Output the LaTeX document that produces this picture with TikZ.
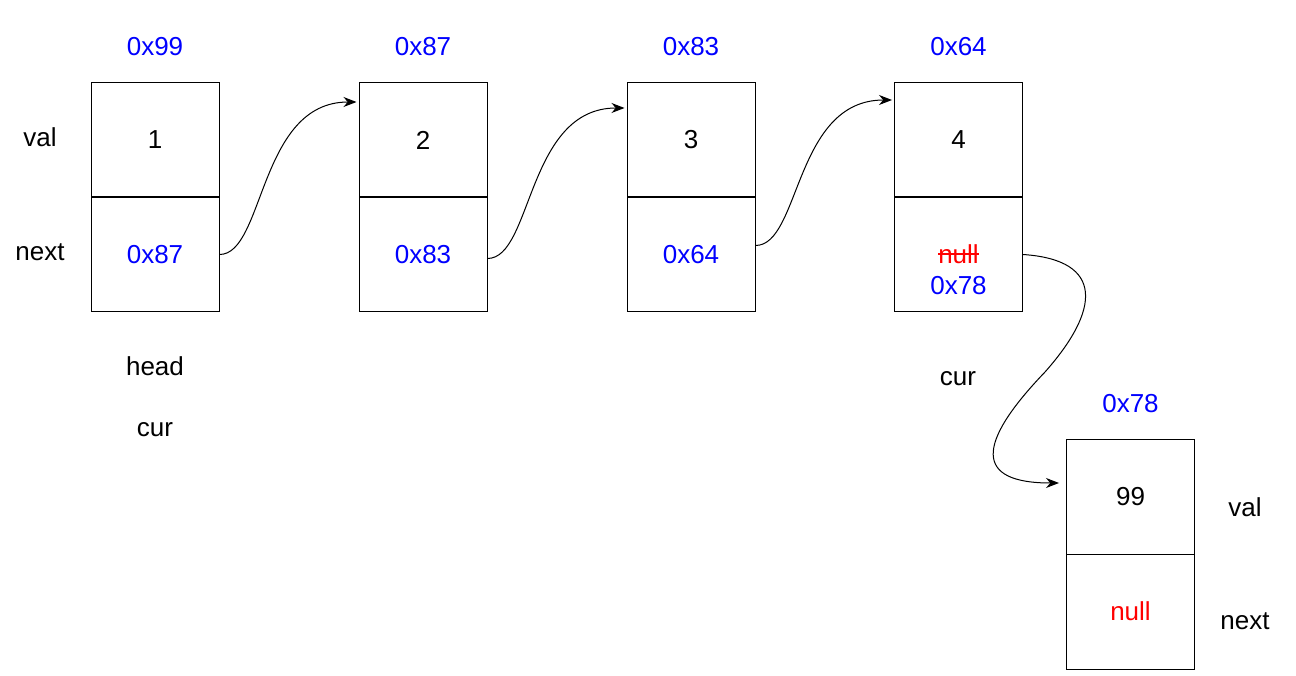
\documentclass[tikz,border=0pt]{standalone}
\usepackage{fontspec}
\setmainfont{Liberation Sans}
\usetikzlibrary{arrows.meta}
\newcommand\myfs{\fontsize{26}{31}\selectfont}
\begin{document}
\begin{tikzpicture}[x=1pt,y=-1pt,
  cell/.style={draw, line width=1pt, minimum width=128pt, minimum height=115pt, inner sep=0pt, font=\myfs},
  lbl/.style={inner sep=0pt, font=\myfs},
  addr/.style={lbl, text=blue},
  link/.style={line width=1pt, -{Stealth[length=13pt,width=10pt]}, shorten >=2pt}]
\useasboundingbox (0,0) rectangle (1296,676);
% node 1
\node[cell] (v1) at (155,140) {1};
\node[cell, text=blue] (n1) at (155,254.5) {0x87};
\node[addr] (a1) at (155,47) {0x99};
% node 2
\node[cell] (v2) at (423,140) {2};
\node[cell, text=blue] (n2) at (423,254.5) {0x83};
\node[addr] (a2) at (423,47) {0x87};
% node 3
\node[cell] (v3) at (691,140) {3};
\node[cell, text=blue] (n3) at (691,254.5) {0x64};
\node[addr] (a3) at (691,47) {0x83};
% node 4
\node[cell] (v4) at (958.5,140) {4};
\node[cell] (n4) at (958.5,254.5) {};
\node[addr] (a4) at (958.5,47) {0x64};
\node[lbl, text=red] (nl) at (958.5,254) {null};
\draw[red, line width=1.3pt, yshift=-2pt] (nl.west) -- (nl.east);
\node[addr] (x4) at (958.5,286) {0x78};
% node 5
\node[cell] (v5) at (1130.5,497) {99};
\node[cell, text=red] (n5) at (1130.5,611.5) {null};
\node[addr] (a5) at (1130.5,404) {0x78};
% side labels
\node[lbl] (val1) at (40,137) {val};
\node[lbl] (next1) at (40,252) {next};
\node[lbl] (head) at (155,366) {head};
\node[lbl] (cur1) at (155,430) {cur};
\node[lbl] (cur2) at (958,379) {cur};
\node[lbl] (val2) at (1245,507) {val};
\node[lbl] (next2) at (1245,621) {next};
% links
\draw[link] (n1.east) .. controls +(45,0) and +(-100,0) .. ([yshift=38pt]v2.west);
\draw[link] ([yshift=-4pt]n2.east) .. controls +(45,0) and +(-100,0) .. ([yshift=32pt]v3.west);
\draw[link] ([yshift=9pt]n3.east) .. controls +(45,0) and +(-100,0) .. ([yshift=40pt]v4.west);
\draw[link, shorten >=7pt] (n4.east) .. controls (1105,260) and (1100,310) .. (1045,372)
   .. controls (975,445) and (975,483) .. ([yshift=14pt]v5.west);
\end{tikzpicture}
\end{document}
